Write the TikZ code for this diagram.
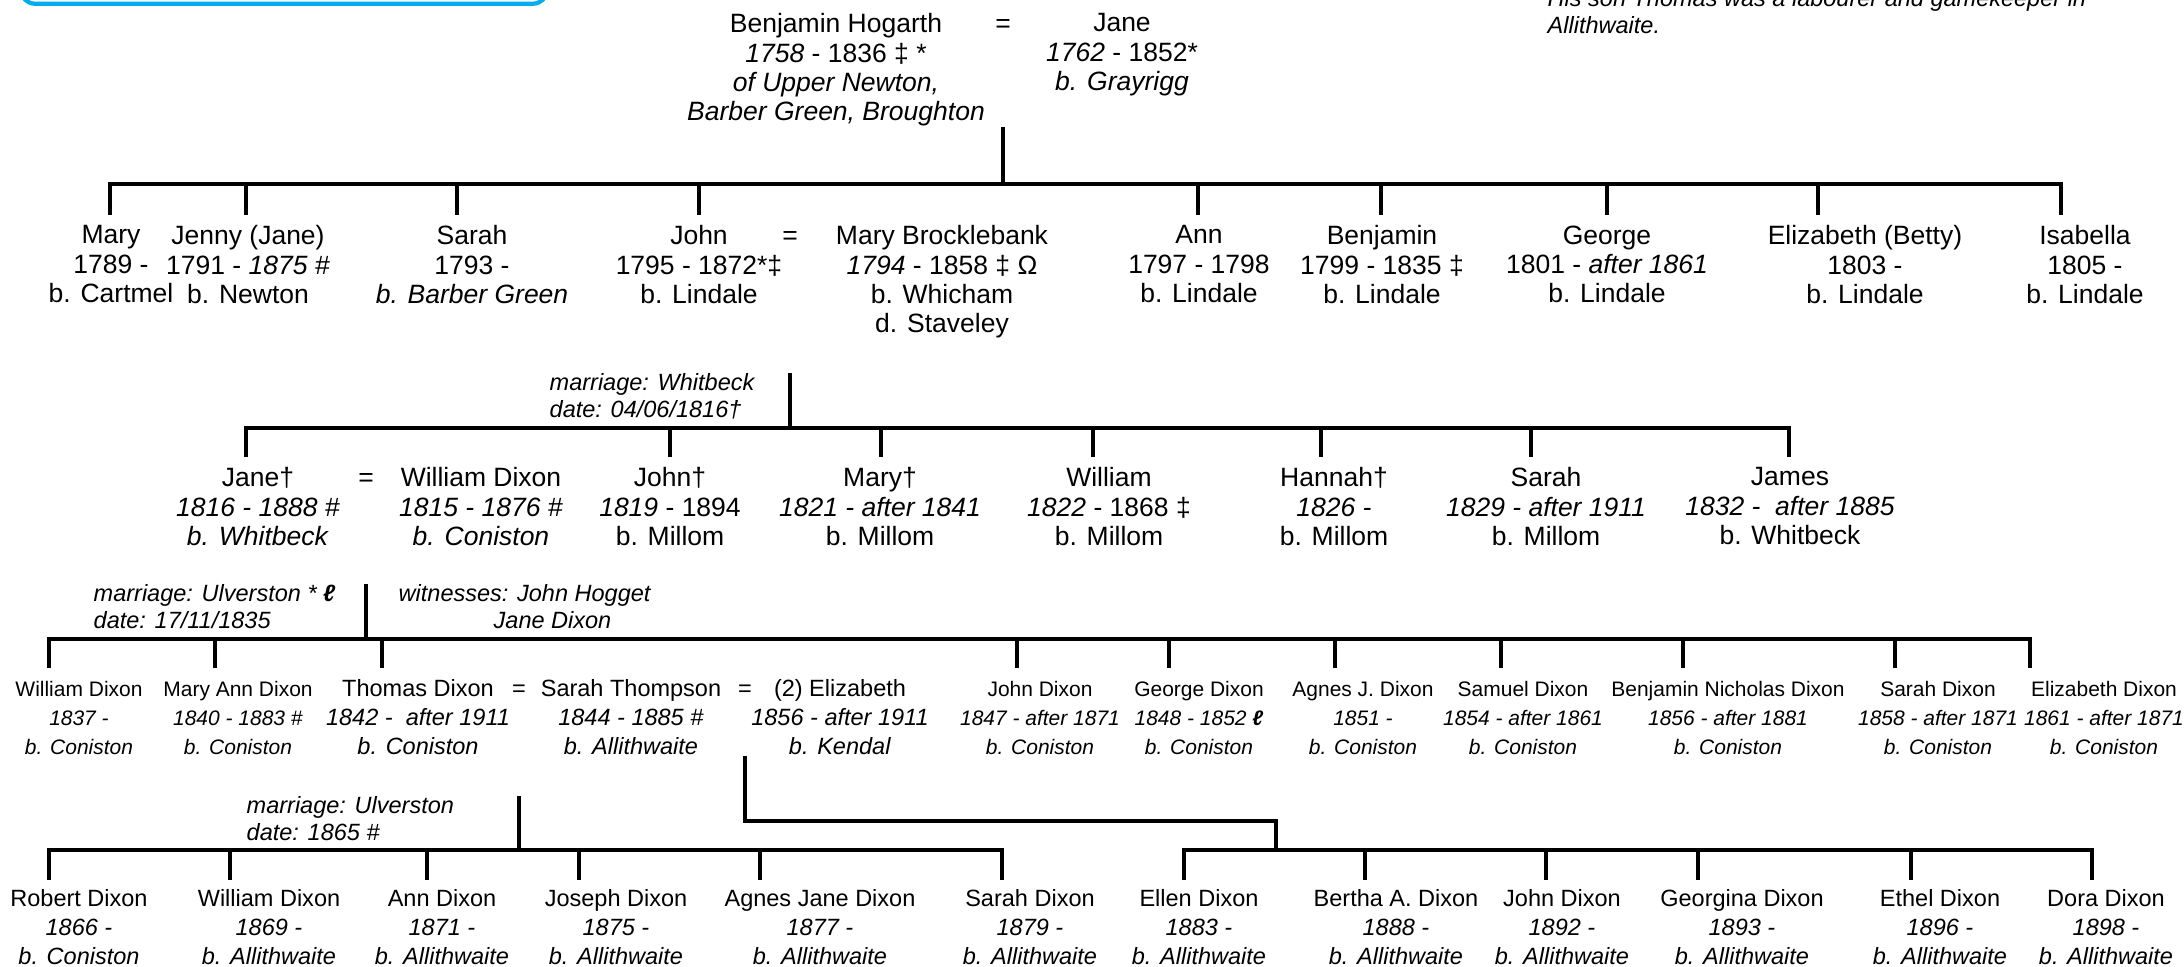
\documentclass[tikz,border=0pt]{standalone}
\usepackage{fontspec}
\setmainfont{Liberation Sans}
\definecolor{boxblue}{RGB}{0,174,239}

\begin{document}
\begin{tikzpicture}[
  person/.style={anchor=north, align=center, inner sep=0pt, font=\fontsize{7.54}{8.34}\selectfont},
  kid/.style={person, font=\fontsize{6.69}{8.25}\selectfont},
  smallkid/.style={person, font=\fontsize{5.97}{8.25}\selectfont},
  wed/.style={anchor=base, inner sep=0pt, font=\fontsize{7.54}{8.34}\selectfont},
  note/.style={anchor=north west, align=left, inner sep=0pt, font=\fontsize{6.69}{7.68}\selectfont\itshape},
  bar/.style={line width=1.1pt},
  drop/.style={line width=1pt},
]
\useasboundingbox (0,0) rectangle (21.84,-9.66);

% cut off at the top
\draw[boxblue, line width=1.2pt, rounded corners=0.14cm] (0.21,0.6) rectangle (5.47,-0.037);
\draw (15.47,0.11) node (story) [note] {His son Thomas was a labourer and gamekeeper in\\Allithwaite.};

% bar levels
\coordinate (bar0) at (0,-1.84);
\coordinate (bar1) at (0,-4.28);
\coordinate (bar2) at (0,-6.39);
\coordinate (bar3) at (0,-8.50);
\coordinate (bend) at (0,-8.21);

% Benjamin and Jane
\draw (8.36,-0.13) node (benjamin) [person] {Benjamin Hogarth\\\textit{1758} - 1836 ‡ *\\\textit{of Upper Newton,}\\\textit{Barber Green, Broughton}};
\draw (10.03,-0.32) node (eq0) [wed] {=};
\draw (11.22,-0.13) node (jane) [person] {Jane\\\textit{1762} - 1852*\\\textit{b. Grayrigg}};
\draw[bar] (eq0 |- benjamin.south) -- (eq0 |- bar0);
\draw[bar] (1.10,-2.15) |- (20.61,-1.84) -- (20.61,-2.15);
\foreach \x in {2.46,4.57,6.99,11.98,13.81,16.07,18.18}
  \draw[drop] (\x,-1.84) -- (\x,-2.15);

\draw (1.11,-2.25) node (mary) [person] {Mary\\1789 -\\b. Cartmel};
\draw (2.48,-2.25) node (jenny) [person] {Jenny (Jane)\\1791 - \textit{1875 \#}\\b. Newton};
\draw (4.72,-2.25) node (sarah) [person] {Sarah\\1793 -\\\textit{b. Barber Green}};
\draw (6.99,-2.25) node (john) [person] {John\\1795 - 1872*‡\\b. Lindale};
\draw (7.90,-2.44) node (eq1) [wed] {=};
\draw (9.42,-2.25) node (brocklebank) [person] {Mary Brocklebank\\\textit{1794} - 1858 ‡ Ω\\b. Whicham\\d. Staveley};
\draw (11.99,-2.25) node (ann) [person] {Ann\\1797 - 1798\\b. Lindale};
\draw (13.82,-2.25) node (benjaminjr) [person] {Benjamin\\1799 - 1835 ‡\\b. Lindale};
\draw (16.07,-2.25) node (george) [person] {George\\1801 - \textit{after 1861}\\b. Lindale};
\draw (18.65,-2.25) node (betty) [person] {Elizabeth (Betty)\\1803 -\\b. Lindale};
\draw (20.85,-2.25) node (isabella) [person] {Isabella\\1805 -\\b. Lindale};

% John and Mary Brocklebank
\draw (5.49,-3.73) node (whitbeck) [note] {marriage: Whitbeck\\date: 04/06/1816†};
\draw[bar] (eq1 |- whitbeck.north) -- (eq1 |- bar1);
\draw[bar] (2.46,-4.57) |- (17.89,-4.28) -- (17.89,-4.57);
\foreach \x in {6.70,8.81,10.93,13.21,15.31}
  \draw[drop] (\x,-4.28) -- (\x,-4.57);

\draw (2.58,-4.67) node (janeb) [person] {Jane†\\\textit{1816 - 1888 \#}\\\textit{b. Whitbeck}};
\draw (3.66,-4.86) node (eq2) [wed] {=};
\draw (4.81,-4.67) node (williamdixon) [person] {William Dixon\\\textit{1815 - 1876 \#}\\\textit{b. Coniston}};
\draw (6.70,-4.67) node (johnb) [person] {John†\\\textit{1819} - 1894\\b. Millom};
\draw (8.80,-4.67) node (maryb) [person] {Mary†\\\textit{1821 - after 1841}\\b. Millom};
\draw (11.09,-4.67) node (williamb) [person] {William\\\textit{1822} - 1868 ‡\\b. Millom};
\draw (13.34,-4.67) node (hannah) [person] {Hannah†\\\textit{1826 -}\\b. Millom};
\draw (15.46,-4.67) node (sarahb) [person] {Sarah\\\textit{1829 - after 1911}\\b. Millom};
\draw (17.90,-4.67) node (james) [person] {James\\\textit{1832 - \ after 1885}\\b. Whitbeck};

% Jane and William Dixon
\draw (0.93,-5.84) node (ulverston) [note] {marriage: Ulverston * \textbf{ℓ}\\date: 17/11/1835};
\draw (3.98,-5.84) node (witnesses) [note] {witnesses: John Hogget\\\hspace*{0.95cm}Jane Dixon};
\draw[bar] (eq2 |- ulverston.north) -- (eq2 |- bar2);
\draw[bar] (0.49,-6.68) |- (20.30,-6.39) -- (20.30,-6.68);
\foreach \x in {2.15,3.82,10.17,11.69,13.35,15.01,16.83,18.95}
  \draw[drop] (\x,-6.39) -- (\x,-6.68);

\draw (0.79,-6.81) node (williamc) [smallkid] {William Dixon\\\textit{1837 -}\\\textit{b. Coniston}};
\draw (2.38,-6.81) node (maryann) [smallkid] {Mary Ann Dixon\\\textit{1840 - 1883 \#}\\\textit{b. Coniston}};
\draw (4.18,-6.79) node (thomas) [kid] {Thomas Dixon\\\textit{1842 - \ after 1911}\\\textit{b. Coniston}};
\draw (5.19,-6.96) node (eq3) [wed, font=\fontsize{6.69}{8.25}\selectfont] {=};
\draw (6.31,-6.79) node (thompson) [kid] {Sarah Thompson\\\textit{1844 - 1885 \#}\\\textit{b. Allithwaite}};
\draw (7.45,-6.96) node (eq4) [wed, font=\fontsize{6.69}{8.25}\selectfont] {=};
\draw (8.40,-6.79) node (elizabeth) [kid] {(2) Elizabeth\\\textit{1856 - after 1911}\\\textit{b. Kendal}};
\draw (10.40,-6.81) node (johnc) [smallkid] {John Dixon\\\textit{1847 - after 1871}\\\textit{b. Coniston}};
\draw (11.99,-6.81) node (georgec) [smallkid] {George Dixon\\\textit{1848 - 1852 \textbf{ℓ}}\\\textit{b. Coniston}};
\draw (13.63,-6.81) node (agnesc) [smallkid] {Agnes J. Dixon\\\textit{1851 -}\\\textit{b. Coniston}};
\draw (15.23,-6.81) node (samuelc) [smallkid] {Samuel Dixon\\\textit{1854 - after 1861}\\\textit{b. Coniston}};
\draw (17.28,-6.81) node (nicholas) [smallkid] {Benjamin Nicholas Dixon\\\textit{1856 - after 1881}\\\textit{b. Coniston}};
\draw (19.38,-6.81) node (sarahc) [smallkid] {Sarah Dixon\\\textit{1858 - after 1871}\\\textit{b. Coniston}};
\draw (21.04,-6.81) node (elizabethc) [smallkid] {Elizabeth Dixon\\\textit{1861 - after 1871}\\\textit{b. Coniston}};

% Thomas and Sarah Thompson
\draw (2.46,-7.96) node (ulverstonb) [note] {marriage: Ulverston\\date: 1865 \#};
\draw[bar] (eq3 |- ulverstonb.north) -- (eq3 |- bar3);
\draw[bar] (0.49,-8.80) |- (10.02,-8.50) -- (10.02,-8.80);
\foreach \x in {2.30,4.27,5.79,7.60}
  \draw[drop] (\x,-8.50) -- (\x,-8.80);

% Thomas and Elizabeth
\draw[bar] (eq4 |- thompson.south) -- (eq4 |- bend) -- (12.76,-8.21) -- (12.76,-8.50);
\draw[bar] (11.84,-8.80) |- (20.92,-8.50) -- (20.92,-8.80);
\foreach \x in {13.65,15.46,16.98,19.11}
  \draw[drop] (\x,-8.50) -- (\x,-8.80);

\draw (0.79,-8.89) node (robert) [kid] {Robert Dixon\\\textit{1866 -}\\\textit{b. Coniston}};
\draw (2.69,-8.89) node (williamd) [kid] {William Dixon\\\textit{1869 -}\\\textit{b. Allithwaite}};
\draw (4.42,-8.89) node (annd) [kid] {Ann Dixon\\\textit{1871 -}\\\textit{b. Allithwaite}};
\draw (6.16,-8.89) node (joseph) [kid] {Joseph Dixon\\\textit{1875 -}\\\textit{b. Allithwaite}};
\draw (8.20,-8.89) node (agnesjane) [kid] {Agnes Jane Dixon\\\textit{1877 -}\\\textit{b. Allithwaite}};
\draw (10.30,-8.89) node (sarahd) [kid] {Sarah Dixon\\\textit{1879 -}\\\textit{b. Allithwaite}};
\draw (11.99,-8.89) node (ellen) [kid] {Ellen Dixon\\\textit{1883 -}\\\textit{b. Allithwaite}};
\draw (13.96,-8.89) node (bertha) [kid] {Bertha A. Dixon\\\textit{1888 -}\\\textit{b. Allithwaite}};
\draw (15.62,-8.89) node (johnd) [kid] {John Dixon\\\textit{1892 -}\\\textit{b. Allithwaite}};
\draw (17.42,-8.89) node (georgina) [kid] {Georgina Dixon\\\textit{1893 -}\\\textit{b. Allithwaite}};
\draw (19.40,-8.89) node (ethel) [kid] {Ethel Dixon\\\textit{1896 -}\\\textit{b. Allithwaite}};
\draw (21.06,-8.89) node (dora) [kid] {Dora Dixon\\\textit{1898 -}\\\textit{b. Allithwaite}};
\end{tikzpicture}
\end{document}
